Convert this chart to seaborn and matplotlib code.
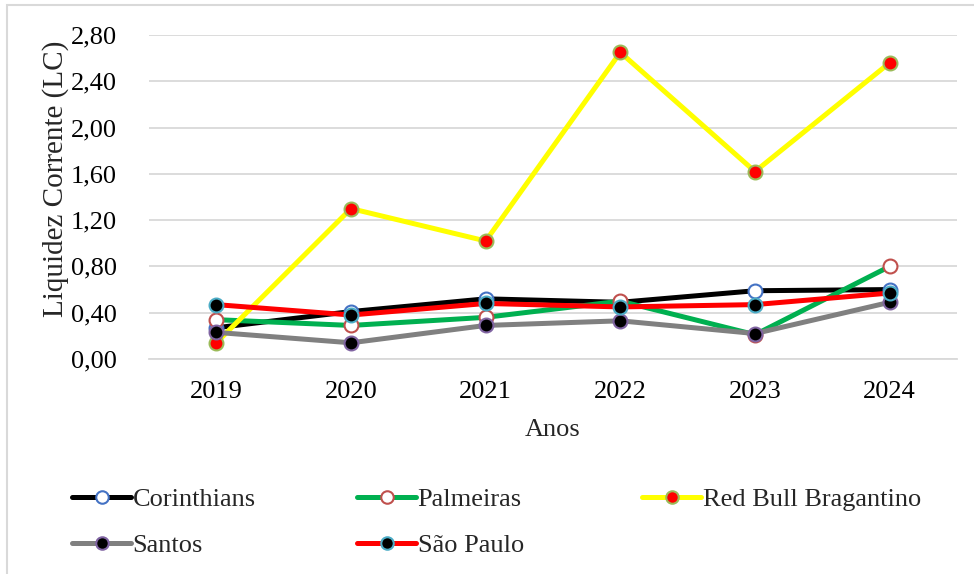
import matplotlib
matplotlib.use("Agg")
import matplotlib.pyplot as plt
import seaborn as sns
import pandas as pd
from matplotlib.lines import Line2D
from matplotlib.patches import Rectangle

years = ["2019", "2020", "2021", "2022", "2023", "2024"]
corinthians = [0.27, 0.41, 0.52, 0.49, 0.59, 0.60]
palmeiras = [0.34, 0.29, 0.36, 0.50, 0.21, 0.80]
bragantino = [0.14, 1.30, 1.02, 2.65, 1.62, 2.56]
santos = [0.23, 0.14, 0.29, 0.33, 0.22, 0.49]
sao_paulo = [0.47, 0.38, 0.48, 0.45, 0.47, 0.57]
yticks = [0.0, 0.4, 0.8, 1.2, 1.6, 2.0, 2.4, 2.8]
ytick_labels = ["0,00", "0,40", "0,80", "1,20", "1,60", "2,00", "2,40", "2,80"]

sns.set_theme(style="white")
FAM = ["Liberation Serif", "DejaVu Serif"]
plt.rcParams["font.family"] = FAM
plt.rcParams["font.serif"] = FAM
FS = 19

series = [
    ("Corinthians", corinthians, "#000000", "#FFFFFF", "#4472C4"),
    ("Palmeiras", palmeiras, "#00B050", "#FFFFFF", "#C0504D"),
    ("Red Bull Bragantino", bragantino, "#FFFF00", "#FF0000", "#9BBB59"),
    ("Santos", santos, "#808080", "#000000", "#8064A2"),
    ("São Paulo", sao_paulo, "#FF0000", "#000000", "#4BACC6"),
]

fig = plt.figure(figsize=(9.74, 5.74), dpi=100)
ax = fig.add_axes([149 / 974, 1 - 359 / 574, (957 - 149) / 974, (359 - 35) / 574])

xpos = list(range(len(years)))
handles = {}
for name, vals, lc, fc, ec in series:
    df = pd.DataFrame({"x": xpos, "y": vals})
    sns.lineplot(data=df, x="x", y="y", ax=ax, color=lc, linewidth=3.6,
                 marker="o", markersize=10, markerfacecolor=fc,
                 markeredgecolor=ec, markeredgewidth=1.5, zorder=3)
    handles[name] = Line2D([0], [0], color=lc, linewidth=3.6, marker="o",
                           markersize=9, markerfacecolor=fc,
                           markeredgecolor=ec, markeredgewidth=1.5,
                           solid_capstyle="round")

ax.set_xlim(-0.5, len(years) - 0.5)
ax.set_ylim(0, 2.8)
ax.set_xticks(xpos)
ax.set_xticklabels(years, fontsize=FS, family=FAM)
ax.set_yticks(yticks)
ax.set_yticklabels(ytick_labels, fontsize=FS, family=FAM)
ax.tick_params(axis="both", length=0, colors="black")
ax.tick_params(axis="y", pad=23)
ax.tick_params(axis="x", pad=16)
ax.grid(axis="y", color="#D9D9D9", linewidth=1.3)
ax.set_axisbelow(True)
for s in ["top", "right", "left"]:
    ax.spines[s].set_visible(False)
ax.spines["bottom"].set_color("#D9D9D9")
ax.spines["bottom"].set_linewidth(1.3)
ax.set_xlabel("Anos", fontsize=FS, family=FAM, labelpad=11)
ax.set_ylabel("Liquidez Corrente (LC)", fontsize=21, family=FAM)
ax.yaxis.set_label_coords((56 - 149) / 808, (359 - 179) / 324)
ax.yaxis.label.set_verticalalignment("center")

columns = [(["Corinthians", "Santos"], 72),
           (["Palmeiras", "São Paulo"], 357),
           (["Red Bull Bragantino"], 642)]
for names, xpx in columns:
    leg = fig.legend([handles[n] for n in names], names, loc="upper left",
                     bbox_to_anchor=(xpx / 974, 1 - 488 / 574), frameon=False,
                     prop={"family": FAM, "size": FS}, handlelength=2.25,
                     handletextpad=0.05, labelspacing=0.85, borderaxespad=0,
                     borderpad=0)

fig.patches.append(Rectangle((7 / 974, -0.1), 1.2, (574 - 5) / 574 + 0.1,
                             transform=fig.transFigure, fill=False,
                             edgecolor="#D9D9D9", linewidth=1.5))
fig.savefig("out.png", dpi=100, facecolor="white")
